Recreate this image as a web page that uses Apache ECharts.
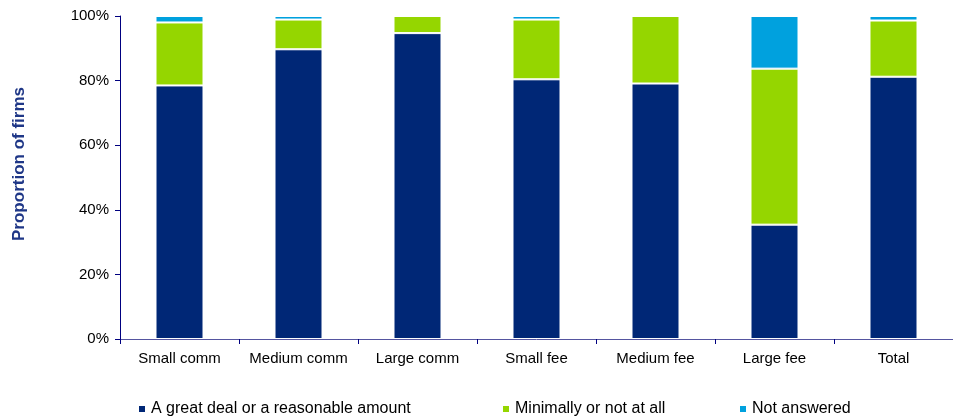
<!DOCTYPE html>
<html>
<head>
<meta charset="utf-8">
<script src="https://cdn.jsdelivr.net/npm/echarts@6/dist/echarts.min.js"></script>
<style>html,body{margin:0;padding:0;background:#fff}#c{width:953px;height:419px}</style>
</head>
<body>
<div id="c"></div>
<script>
var categories = ['Small comm', 'Medium comm', 'Large comm', 'Small fee', 'Medium fee', 'Large fee', 'Total'];
var greatDeal = [78.5, 89.7, 94.7, 80.4, 79.1, 35.4, 81.2];
var minimally = [19.5, 9.2, 5.3, 18.5, 20.9, 48.3, 17.4];
var notAnswered = [2.0, 1.1, 0, 1.1, 0, 16.3, 1.4];
var yTicks = [0, 20, 40, 60, 80, 100];
var seriesNames = ['A great deal or a reasonable amount', 'Minimally or not at all', 'Not answered'];
var colors = ['#002776', '#95D600', '#00A1DE'];

var chart = echarts.init(document.getElementById('c'), null, {renderer: 'canvas'});
var font = '"Liberation Sans", Arial, sans-serif';
function mk(name, data, color) {
  return {
    name: name, type: 'bar', stack: 'a', data: data, barWidth: 48,
    itemStyle: {color: color, borderColor: '#ffffff', borderWidth: 1},
    emphasis: {disabled: true}
  };
}
function leg(name, left) {
  return {
    data: [name], left: left, top: 401, padding: 0, icon: 'rect', itemWidth: 8, itemHeight: 8, itemGap: 0,
    textStyle: {fontFamily: font, fontSize: 16, color: '#000'},
    selectedMode: false
  };
}
chart.setOption({
  animation: false,
  textStyle: {fontFamily: font},
  grid: {left: 120, right: -11, top: 16, bottom: 80, containLabel: false},
  legend: [leg(seriesNames[0], 137), leg(seriesNames[1], 501), leg(seriesNames[2], 738)],
  graphic: [{
    type: 'text', x: 19, y: 164, rotation: Math.PI / 2,
    style: {text: 'Proportion of firms', fontFamily: font, fontSize: 17, fontWeight: 'bold',
      fill: '#1F3787', textAlign: 'center', textVerticalAlign: 'middle'}
  }],
  xAxis: {
    type: 'category', data: categories,
    axisLine: {lineStyle: {color: '#5555A0', width: 1}},
    axisTick: {show: true, length: 5, interval: 0, lineStyle: {color: '#000080'}},
    axisLabel: {margin: 12, fontSize: 15, color: '#000', fontFamily: font, interval: 0}
  },
  yAxis: {
    type: 'value', min: 0, max: 100, interval: 20,
    splitLine: {show: false},
    axisLine: {show: true, lineStyle: {color: '#000080', width: 1}},
    axisTick: {show: true, length: 5, lineStyle: {color: '#000080'}},
    axisLabel: {margin: 11, fontSize: 15, color: '#000', fontFamily: font,
      formatter: function (v) { return yTicks.indexOf(v) >= 0 ? v + '%' : ''; }}
  },
  series: [
    mk(seriesNames[0], greatDeal, colors[0]),
    mk(seriesNames[1], minimally, colors[1]),
    mk(seriesNames[2], notAnswered, colors[2])
  ]
});
</script>
</body>
</html>
